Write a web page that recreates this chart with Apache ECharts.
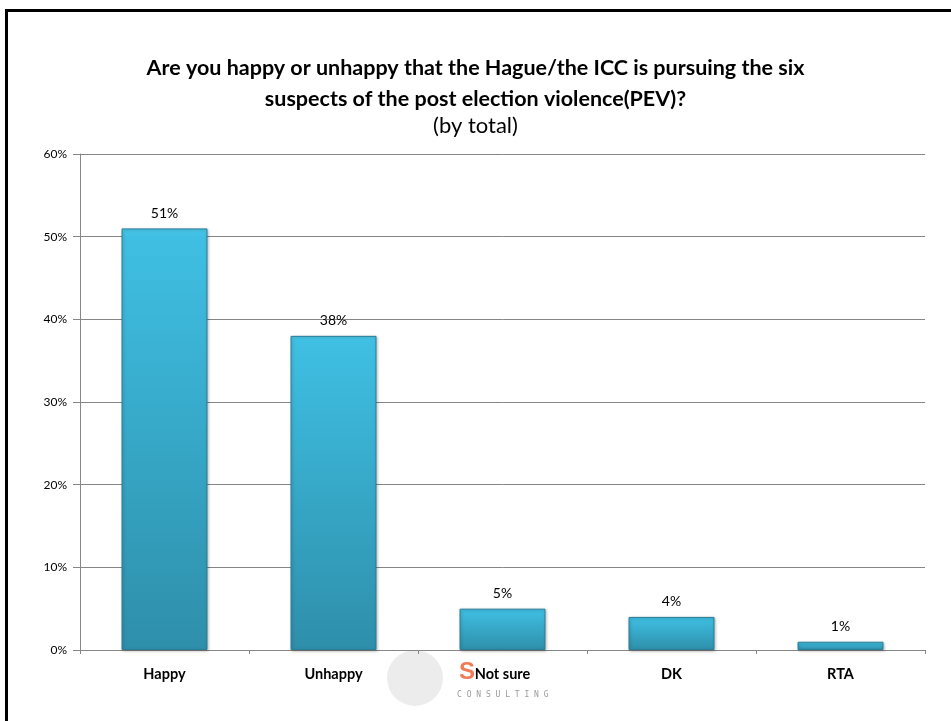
<!DOCTYPE html>
<html><head><meta charset="utf-8">
<script src="https://cdn.jsdelivr.net/npm/echarts@6/dist/echarts.min.js"></script>
<style>html,body{margin:0;padding:0;background:#fff}#c{width:951px;height:721px}</style>
</head><body><div id="c"></div>
<script>
const categories = ["Happy", "Unhappy", "Not sure", "DK", "RTA"];
const values = [51, 38, 5, 4, 1];
const yTicks = [0, 10, 20, 30, 40, 50, 60];

const chart = echarts.init(document.getElementById('c'));
const fam = 'Lato, "Open Sans", sans-serif';
chart.setOption({
  animation: false,
  title: [{
    text: 'Are you happy or unhappy that the Hague/the ICC is pursuing the six\nsuspects of the post election violence(PEV)?',
    left: 'center', top: 48,
    textStyle: {fontFamily: fam, fontWeight: 'bold', fontSize: 21.5, color: '#000', lineHeight: 31}
  }, {
    text: '(by total)', left: 'center', top: 110,
    textStyle: {fontFamily: fam, fontWeight: 'normal', fontSize: 22, color: '#000'}
  }],
  graphic: [
    {type: 'line', shape: {x1: 6.5, y1: 10, x2: 6.5, y2: 721}, style: {stroke: '#000', lineWidth: 3}},
    {type: 'line', shape: {x1: 5, y1: 10.5, x2: 951, y2: 10.5}, style: {stroke: '#000', lineWidth: 3}},
    {type: 'circle', shape: {cx: 415, cy: 678, r: 28}, z: -2, style: {fill: 'rgba(150,150,150,0.18)'}},
    {type: 'text', left: 459, top: 660, z: -1, style: {text: 'S', font: 'bold 24px "Liberation Sans"', fill: '#F0643A', opacity: 0.85}},
    {type: 'text', left: 457, top: 691, z: -1, style: {text: 'C O N S U L T I N G', font: '8px "DejaVu Sans Mono"', fill: '#9a9a9a'}}
  ],
  grid: {left: 80, right: 26, top: 154, bottom: 71},
  xAxis: {
    type: 'category', data: categories,
    axisLine: {lineStyle: {color: '#868686'}},
    axisTick: {show: true, length: 4, lineStyle: {color: '#868686'}},
    axisLabel: {fontFamily: fam, fontWeight: 'bold', fontSize: 14.5, color: '#000', margin: 17}
  },
  yAxis: {
    type: 'value', min: 0, max: 60, interval: 10,
    axisLine: {show: true, lineStyle: {color: '#868686'}},
    axisTick: {show: true, length: 7, lineStyle: {color: '#868686'}},
    splitLine: {lineStyle: {color: '#868686'}},
    axisLabel: {fontFamily: fam, fontSize: 12, color: '#000', margin: 13,
      formatter: v => yTicks.includes(v) ? v + '%' : ''}
  },
  series: [{
    type: 'bar', data: values, barWidth: 86,
    itemStyle: {
      color: new echarts.graphic.LinearGradient(0, 0, 0, 1, [
        {offset: 0, color: '#4AC8EA'},
        {offset: 0.02, color: '#3FBFE3'},
        {offset: 1, color: '#2E8FAA'}
      ]),
      borderColor: '#2A7E98', borderWidth: 1,
      shadowColor: 'rgba(0,0,0,0.25)', shadowBlur: 3, shadowOffsetX: 1, shadowOffsetY: 1
    },
    label: {show: true, position: 'top', distance: 8, fontFamily: fam, fontSize: 14, color: '#000',
      formatter: p => p.value + '%'}
  }]
});
</script></body></html>
